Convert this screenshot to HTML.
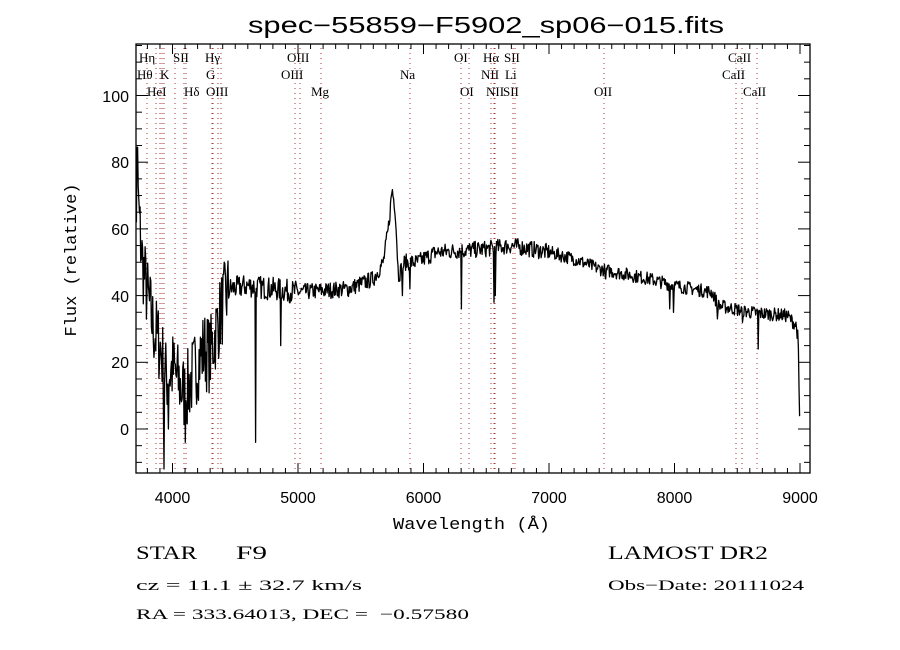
<!DOCTYPE html>
<html><head><meta charset="utf-8"><style>
html,body{margin:0;padding:0;background:#fff;width:900px;height:650px;overflow:hidden}
svg{display:block}
</style></head><body>
<svg id="s" width="900" height="650" xmlns="http://www.w3.org/2000/svg" font-family="Liberation Serif, serif">
<rect width="900" height="650" fill="#fff"/>
<text x="248" y="33" font-family="Liberation Sans, sans-serif" font-size="23" textLength="476" lengthAdjust="spacingAndGlyphs">spec−55859−F5902_sp06−015.fits</text>
<g id="lines" stroke="#a33" stroke-width="1" stroke-dasharray="1,4"></g>
<g id="labels" font-size="13" fill="#000"></g>
<g id="ticks" stroke="#000" stroke-width="1"></g>
<path id="spec" fill="none" stroke="#000" stroke-width="1.3" stroke-linejoin="round"/>
<rect x="136" y="44" width="674" height="429" fill="none" stroke="#000" stroke-width="1.3"/>
<g font-family="Liberation Sans, sans-serif" font-size="16" text-anchor="middle">
<text x="172.5" y="503">4000</text><text x="298" y="503">5000</text><text x="423.5" y="503">6000</text>
<text x="549" y="503">7000</text><text x="674.5" y="503">8000</text><text x="800" y="503">9000</text>
</g>
<g font-family="Liberation Sans, sans-serif" font-size="16" text-anchor="end">
<text x="129" y="435">0</text><text x="129" y="368">20</text><text x="129" y="302">40</text>
<text x="129" y="235">60</text><text x="129" y="168">80</text><text x="129" y="102">100</text>
</g>
<text x="393" y="529" font-size="17" textLength="157" lengthAdjust="spacingAndGlyphs" font-family="Liberation Mono, monospace">Wavelength (Å)</text>
<text transform="translate(76,260) rotate(-90)" font-size="17" text-anchor="middle" font-family="Liberation Mono, monospace">Flux (relative)</text>
<g font-family="Liberation Serif, serif">
<text x="136" y="559" font-size="19" textLength="61" lengthAdjust="spacingAndGlyphs">STAR</text>
<text x="236" y="559" font-size="19" textLength="31" lengthAdjust="spacingAndGlyphs">F9</text>
<text x="608" y="559" font-size="19" textLength="160" lengthAdjust="spacingAndGlyphs">LAMOST DR2</text>
<text x="136" y="590" font-size="15" textLength="226" lengthAdjust="spacingAndGlyphs">cz = 11.1 ± 32.7 km/s</text>
<text x="608" y="590" font-size="15" textLength="196" lengthAdjust="spacingAndGlyphs">Obs−Date: 20111024</text>
<text x="136" y="619" font-size="15" textLength="232" lengthAdjust="spacingAndGlyphs">RA = 333.64013, DEC =</text>
<text x="380" y="619" font-size="15" textLength="89" lengthAdjust="spacingAndGlyphs">−0.57580</text>
</g>
</svg>
<script>
var NS="http://www.w3.org/2000/svg";
function X(w){return 172.5+(w-4000)*0.1255;}
function Y(f){return 429-f*3.335;}
function el(p,t,a,txt){var e=document.createElementNS(NS,t);for(var k in a)e.setAttribute(k,a[k]);if(txt)e.textContent=txt;document.getElementById(p).appendChild(e);}
for(var w=3800;w<=9000;w+=100){var x=X(w),L=(w%1000==0)?10:5;el("ticks","line",{x1:x,y1:473,x2:x,y2:473-L});el("ticks","line",{x1:x,y1:44,x2:x,y2:44+L});}
for(var f=-10;f<=115;f+=5){var y=Y(f),L=(f%20==0)?12:6;if(y<44||y>473)continue;el("ticks","line",{x1:136,y1:y,x2:136+L,y2:y});el("ticks","line",{x1:810,y1:y,x2:810-L,y2:y});}
var ls=[[139,"Hη",1],[137,"Hθ",2],[147,"HeI",3],[160,"K",2],[173,"SII",1],[184,"Hδ",3],[205,"Hγ",1],[206,"G",2],[206,"OIII",3],[287,"OIII",1],[281,"OIII",2],[311,"Mg",3],[400,"Na",2],[454,"OI",1],[460,"OI",3],[483,"Hα",1],[481,"NII",2],[486,"NII",3],[504,"SII",1],[505,"Li",2],[503,"SII",3],[594,"OII",3],[728,"CaII",1],[722,"CaII",2],[743,"CaII",3]];
var xs=[147,156,162,164,175,184,186,213,218,221,295,300,321,410,461,469,491,494,495,513,515,604,736,742,757,160,212];
xs.forEach(function(x){el("lines","line",{x1:x,y1:48,x2:x,y2:473});});
ls.forEach(function(l){el("labels","text",{x:l[0],y:62+(l[2]-1)*17},l[1]);});
var env=[[3710,75],[3730,65],[3760,50],[3800,40],[3850,30],[3900,25],[3950,15],[4000,18],[4050,14],[4100,10],[4150,15],[4200,20],[4250,24],[4300,22],[4350,30],[4400,37],[4450,42],[4600,43],[5000,41],[5400,42],[5600,45],[5680,50],[5720,60],[5750,72],[5775,66],[5800,46],[5850,50],[5950,50],[6100,53],[6500,54],[6700,55],[7000,53],[7200,51],[7400,48],[7800,45],[8000,43],[8300,41],[8350,37],[8600,35],[8900,34],[8970,31],[8985,27],[8995,5],[9000,2]];
function E(w){for(var i=1;i<env.length;i++){if(w<=env[i][0]){var a=env[i-1],b=env[i];return a[1]+(b[1]-a[1])*(w-a[0])/(b[0]-a[0]);}}return 2;}
var seed=7;function r(){seed=(seed*16807)%2147483647;return seed/2147483647;}
var dips=[[3930,-12],[3965,0],[4100,-4],[4660,-4],[4862,25],[5830,40],[5890,42],[6300,36],[6563,38],[6570,40],[7450,45],[7960,36],[7990,35],[8340,33],[8540,32],[8665,24]];
var d="";
for(var w=3712;w<=9000;w+=5){
 var base=E(w),amp=w<4450?12:(w<5000?3.5:(w<7000?2.5:2));
 var f=base+(r()-0.5)*2*amp;
 dips.forEach(function(p){if(Math.abs(w-p[0])<3)f=p[1];});
 if(w<3730 && r()<0.5)f=80+r()*6;
 d+=(d?"L":"M")+X(w).toFixed(1)+","+Y(f).toFixed(1);
}
document.getElementById("spec").setAttribute("d",d);
</script>
</body></html>
